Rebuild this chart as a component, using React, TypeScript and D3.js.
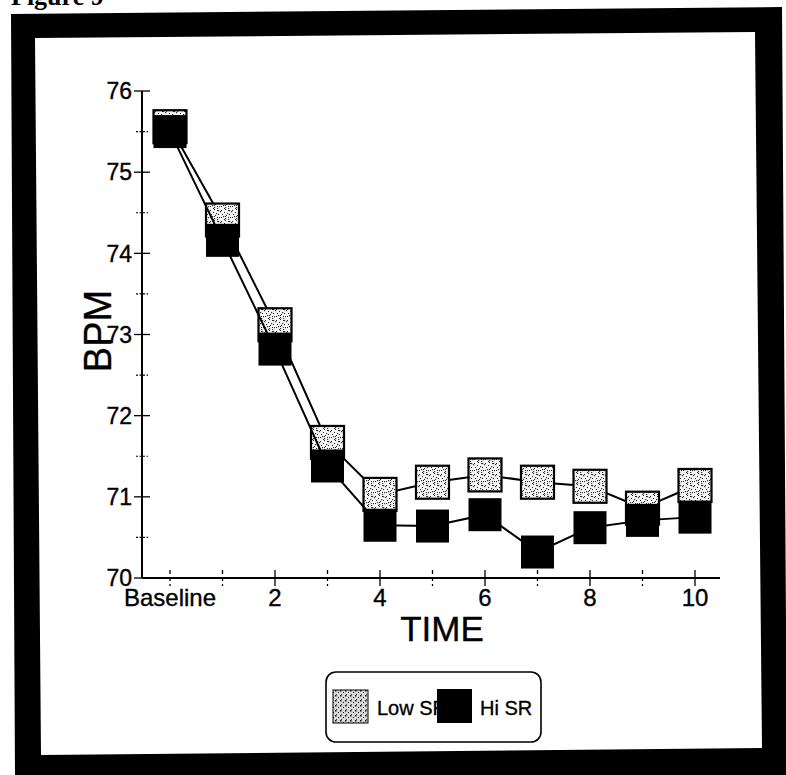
import React from "react";
import * as d3 from "d3";

// Heart rate (BPM) over time for the two groups
const timePoints = [0, 1, 2, 3, 4, 5, 6, 7, 8, 9, 10];
const lowSR = [75.56, 74.41, 73.12, 71.67, 71.03, 71.18, 71.27, 71.18, 71.13, 70.86, 71.14];
const hiSR = [75.5, 74.16, 72.82, 71.38, 70.65, 70.64, 70.78, 70.32, 70.62, 70.71, 70.75];
const xTickLabels = ["Baseline", "", "2", "", "4", "", "6", "", "8", "", "10"];
const yTicks = [70, 71, 72, 73, 74, 75, 76];
const yMinorTicks = [70.5, 71.5, 72.5, 73.5, 74.5, 75.5];
const seriesNames = ["Low SR", "Hi SR"];

const W = 786;
const H = 775;
const FONT = "'Liberation Sans', Arial, Helvetica, sans-serif";
const SQ = 33;
// slight outline so the sans-serif text reads as heavy as printed type
const INK = { stroke: "#000", strokeWidth: 0.35 };

// speck positions for the stippled fill
const specks1 = [[1, 1], [4, 3], [2, 5], [6, 6], [5, 0]];
const specks2 = [[0, 2], [3, 7], [7, 4], [9, 1], [5, 9], [10, 8], [8, 10]];

export default function App() {
  const x = d3.scaleLinear().domain([0, 10]).range([170, 695]);
  const y = d3.scaleLinear().domain([70, 76]).range([578, 91]);
  const axisX0 = 142;
  const axisX1 = 720;
  const axisY = y(70);
  const axisTop = y(76);

  const line = d3
    .line<number>()
    .x((_, i) => x(timePoints[i]))
    .y((d) => y(d));

  return (
    <svg
      width={W}
      height={H}
      viewBox={`0 0 ${W} ${H}`}
      style={{ position: "absolute", left: 0, top: 0, display: "block", background: "#fff" }}
    >
      <defs>
        <pattern id="stip1" width={7} height={7} patternUnits="userSpaceOnUse">
          <rect width={7} height={7} fill="#f4f4f4" />
          {specks1.map(([a, b], i) => (
            <rect key={i} x={a} y={b} width={1} height={1} fill="#222" />
          ))}
        </pattern>
        <pattern id="stip2" width={11} height={11} patternUnits="userSpaceOnUse">
          <rect width={11} height={11} fill="url(#stip1)" />
          {specks2.map(([a, b], i) => (
            <rect key={i} x={a} y={b} width={1.2} height={1.2} fill="#333" />
          ))}
        </pattern>
        <pattern id="stipDense" width={5} height={5} patternUnits="userSpaceOnUse">
          <rect width={5} height={5} fill="#d8d8d8" />
          <rect x={0} y={0} width={1.5} height={1.5} fill="#111" />
          <rect x={3} y={2} width={1} height={1} fill="#111" />
          <rect x={1} y={4} width={1} height={1} fill="#444" />
        </pattern>
      </defs>

      {/* caption, partly cut at the top edge */}
      <text
        x={11}
        y={5}
        fontFamily="'Liberation Serif', 'Times New Roman', serif"
        fontWeight="bold"
        fontSize={26}
        fill="#000"
      >
        Figure 9
      </text>

      {/* heavy black frame */}
      <path
        fillRule="evenodd"
        fill="#000"
        d="M11,14 L782,7 L787,776 L15,776 Z M35,38 L755,32 L762,748 L41,755 Z"
      />

      {/* axes */}
      <line x1={axisX0} x2={axisX0} y1={axisTop} y2={axisY} stroke="#000" strokeWidth={2} />
      <line x1={axisX0} x2={axisX1} y1={axisY} y2={axisY} stroke="#000" strokeWidth={2} />

      {yTicks.map((v) => (
        <g key={`yt${v}`}>
          <line x1={axisX0 - 8} x2={axisX0 + 8} y1={y(v)} y2={y(v)} stroke="#000" strokeWidth={1.3} />
          <text
            x={axisX0 - 10}
            y={y(v)}
            dy="0.36em"
            textAnchor="end"
            fontFamily={FONT}
            fontSize={23}
            fill="#000"
            {...INK}
          >
            {v}
          </text>
        </g>
      ))}
      {yMinorTicks.map((v) => (
        <line
          key={`ym${v}`}
          x1={axisX0 - 6}
          x2={axisX0 + 6}
          y1={y(v)}
          y2={y(v)}
          stroke="#000"
          strokeWidth={1.2}
          strokeDasharray="2 1.5"
        />
      ))}

      {timePoints.map((t, i) => (
        <g key={`xt${t}`}>
          <line
            x1={x(t)}
            x2={x(t)}
            y1={axisY - 8}
            y2={axisY + 8}
            stroke="#000"
            strokeWidth={1.3}
            strokeDasharray={i % 2 === 0 && i > 0 ? undefined : "4 3"}
          />
          {xTickLabels[i] && (
            <text
              x={x(t)}
              y={606}
              textAnchor="middle"
              fontFamily={FONT}
              fontSize={24}
              fill="#000"
              {...INK}
            >
              {xTickLabels[i]}
            </text>
          )}
        </g>
      ))}

      {/* axis titles */}
      <text x={442} y={641} textAnchor="middle" fontFamily={FONT} fontSize={35} fill="#000" {...INK}>
        TIME
      </text>
      <text
        transform={`translate(111,331) rotate(-90)`}
        textAnchor="middle"
        fontFamily={FONT}
        fontSize={38}
        fill="#000"
        {...INK}
      >
        BPM
      </text>

      {/* Low SR series */}
      <path d={line(lowSR) ?? ""} fill="none" stroke="#000" strokeWidth={2} />
      {lowSR.map((v, i) => (
        <rect
          key={`lo${i}`}
          x={x(timePoints[i]) - SQ / 2}
          y={y(v) - SQ / 2}
          width={SQ}
          height={SQ}
          fill="url(#stip2)"
          stroke="#000"
          strokeWidth={2.2}
        />
      ))}

      {/* Hi SR series */}
      <path d={line(hiSR) ?? ""} fill="none" stroke="#000" strokeWidth={2} />
      {hiSR.map((v, i) => (
        <rect
          key={`hi${i}`}
          x={x(timePoints[i]) - SQ / 2}
          y={y(v) - SQ / 2}
          width={SQ}
          height={SQ}
          fill="#000"
        />
      ))}

      {/* legend */}
      <rect x={326} y={672} width={215} height={70} rx={10} ry={10} fill="#fff" stroke="#000" strokeWidth={1.6} />
      <rect x={333} y={690} width={35} height={33} fill="url(#stipDense)" stroke="#000" strokeWidth={1} />
      <text x={377} y={715} fontFamily={FONT} fontSize={20} fill="#000" {...INK}>
        {seriesNames[0]}
      </text>
      <rect x={437} y={689} width={35} height={34} fill="#000" />
      <text x={480} y={715} fontFamily={FONT} fontSize={20} fill="#000" {...INK}>
        {seriesNames[1]}
      </text>
    </svg>
  );
}
